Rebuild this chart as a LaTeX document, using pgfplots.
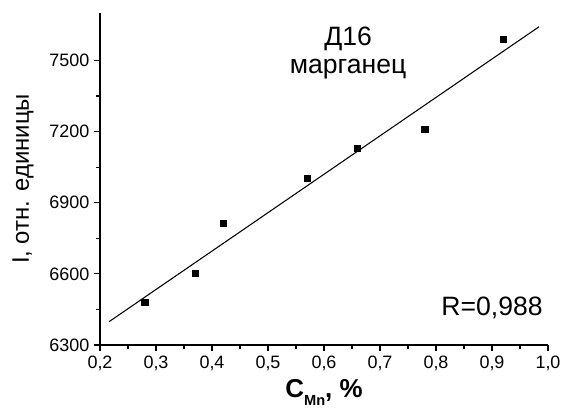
\documentclass[border=0pt]{standalone}
\usepackage{pgfplots}
\pgfplotsset{compat=1.18}
\usepackage{fontspec}
\setmainfont{Liberation Sans}

\begin{document}
\begin{tikzpicture}
\begin{axis}[
    scale only axis,
    width=336bp, height=249bp,
    xmin=0.2, xmax=1.0,
    ymin=6300, ymax=7700,
    axis lines=left,
    axis line style={-, line width=0.8pt},
    xtick={0.2,0.3,0.4,0.5,0.6,0.7,0.8,0.9,1.0},
    xticklabels={{0,2},{0,3},{0,4},{0,5},{0,6},{0,7},{0,8},{0,9},{1,0}},
    ytick={6300,6600,6900,7200,7500},
    yticklabels={6300,6600,6900,7200,7500},
    minor x tick num=1,
    minor y tick num=1,
    tick align=outside,
    major tick length=4.5bp,
    minor tick length=3bp,
    tick style={black, line width=0.8pt},
    every tick label/.append style={font=\fontsize{13.5}{15}\selectfont},
    xlabel={C\raisebox{-0.6ex}{\fontsize{11}{11}\selectfont Mn}, \%},
    xlabel style={font=\fontsize{19.5}{22}\selectfont\bfseries},
    ylabel={I, отн. единицы},
    ylabel style={font=\fontsize{18}{22}\selectfont, yshift=5bp},
    clip=false,
]
% измерения
\addplot [only marks, mark=square*, mark size=2.3pt, mark options={fill=black, draw=black}]
coordinates {
    (0.28, 6480)
    (0.37, 6602)
    (0.42, 6814)
    (0.57, 7002)
    (0.66, 7128)
    (0.78, 7210)
    (0.92, 7588)
};
% линейная аппроксимация
\addplot [black, line width=0.8pt] coordinates {
    (0.216, 6398)
    (0.984, 7642)
};
\node [align=center, font=\fontsize{20}{21}\selectfont] at (axis cs:0.643,7530) {Д16\\марганец};
\node [font=\fontsize{20}{24}\selectfont] at (axis cs:0.9,6456) {R=0,988};
\end{axis}
\pgfresetboundingbox
\path [use as bounding box] (current axis.south west) ++(-75bp,-47.25bp) rectangle ++(424.5bp,306bp);
\end{tikzpicture}
\end{document}
